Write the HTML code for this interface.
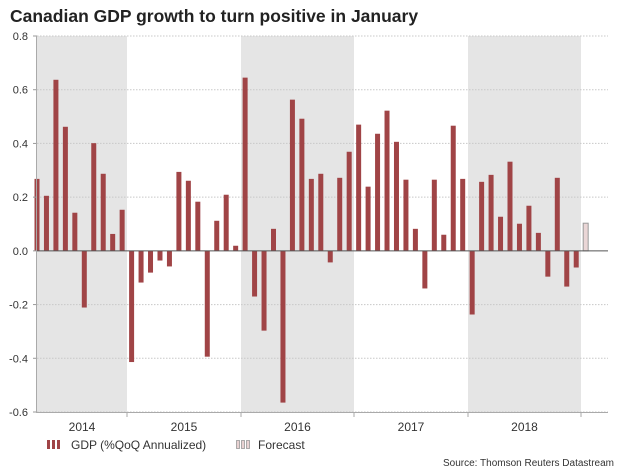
<!DOCTYPE html>
<html><head><meta charset="utf-8"><style>
body{margin:0;background:#fff;font-family:"Liberation Sans",sans-serif;}
svg text{font-family:"Liberation Sans",sans-serif;}
</style></head><body>
<svg id="chart" width="626" height="469" xmlns="http://www.w3.org/2000/svg">
<text x="10" y="22" font-size="17.5" font-weight="bold" fill="#222">Canadian GDP growth to turn positive in January</text>
<g id="shade"></g><g id="grid"></g><g id="bars"></g><g id="axes"></g>
<g>
 <g fill="#a04446"><rect x="47" y="440" width="3" height="9"/><rect x="52" y="440" width="3" height="9"/><rect x="57" y="440" width="3" height="9"/></g>
 <text x="71" y="449" font-size="12" fill="#333">GDP (%QoQ Annualized)</text>
 <g fill="#e8d2d2" stroke="#999" stroke-width="0.8"><rect x="236.5" y="440.5" width="3" height="8"/><rect x="241.5" y="440.5" width="3" height="8"/><rect x="246.5" y="440.5" width="3" height="8"/></g>
 <text x="258" y="449" font-size="12" fill="#333">Forecast</text>
</g>
<text x="614" y="466" font-size="10" fill="#333" text-anchor="end">Source: Thomson Reuters Datastream</text>
</svg>
<script>
const gdpValues=[0.268,0.205,0.637,0.462,0.142,-0.211,0.401,0.287,0.063,0.153,
-0.414,-0.118,-0.081,-0.036,-0.058,0.294,0.261,0.183,-0.394,0.112,0.209,0.019,
0.645,-0.170,-0.297,0.082,-0.565,0.563,0.492,0.268,0.287,-0.043,0.272,0.369,
0.470,0.239,0.436,0.522,0.406,0.265,0.082,-0.140,0.265,0.060,0.466,0.268,
-0.237,0.257,0.283,0.127,0.332,0.101,0.168,0.067,-0.096,0.272,-0.133,-0.062];
const forecastValues=[0.103];
const yTicks=[0.8,0.6,0.4,0.2,0,-0.2,-0.4,-0.6];
const yearLabels=["2014","2015","2016","2017","2018"];
const NS="http://www.w3.org/2000/svg";
const y0=36,y1=412,vMax=0.8,vMin=-0.6;
function yScale(v){return y0+(vMax-v)/(vMax-vMin)*(y1-y0);}
function xScale(i){return 37+i*9.46;}
function mk(p,tag,a){const e=document.createElementNS(NS,tag);for(const k in a)e.setAttribute(k,a[k]);document.getElementById(p).appendChild(e);return e;}
const bounds=[37,127,241,354,468,581];
for(let k=0;k<5;k++){
 if(k%2===0){const r=mk('shade','rect',{x:bounds[k],y:y0,width:bounds[k+1]-bounds[k],height:y1-y0,fill:'#e5e5e5'});
 
 }
 const t=mk('axes','text',{x:(bounds[k]+bounds[k+1])/2,y:431,'font-size':12,fill:'#333','text-anchor':'middle'});t.textContent=yearLabels[k];
 
 
}
yTicks.forEach(v=>{const y=yScale(v);
 if(v!==0){const g=mk('grid','line',{x1:37,x2:608,y1:y,y2:y,stroke:'#c8c8c8','stroke-dasharray':'1.5,1.5'});
 
 }
 mk('axes','line',{x1:33,x2:37,y1:y,y2:y,stroke:'#999'});
 const t=mk('axes','text',{x:28,y:y+4,'font-size':11,fill:'#333','text-anchor':'end'});t.textContent=v.toFixed(1);
 
 
});
gdpValues.forEach((v,i)=>{const a=yScale(Math.max(v,0)),b=yScale(Math.min(v,0));
 const r=mk('bars','rect',{x:xScale(i)-2.5,y:a,width:5,height:b-a,fill:'#a04446'});
 
 });
forecastValues.forEach((v,j)=>{const a=yScale(Math.max(v,0)),b=yScale(Math.min(v,0));
 const r=mk('bars','rect',{x:xScale(gdpValues.length+j)-2.5,y:a,width:5,height:b-a,fill:'#ead6d6',stroke:'#999','stroke-width':1});
 
 });
const z=mk('axes','line',{x1:37,x2:608,y1:yScale(0),y2:yScale(0),stroke:'#555','stroke-width':1});


const ya=mk('axes','line',{x1:36.5,x2:36.5,y1:y0,y2:y1,stroke:'#aaa'});


const xa=mk('axes','line',{x1:36,x2:608,y1:y1+0.5,y2:y1+0.5,stroke:'#aaa'});


bounds.slice(1).forEach(x=>{mk('axes','line',{x1:x,x2:x,y1:y1,y2:y1+5,stroke:'#aaa'});});
</script>
</body></html>
